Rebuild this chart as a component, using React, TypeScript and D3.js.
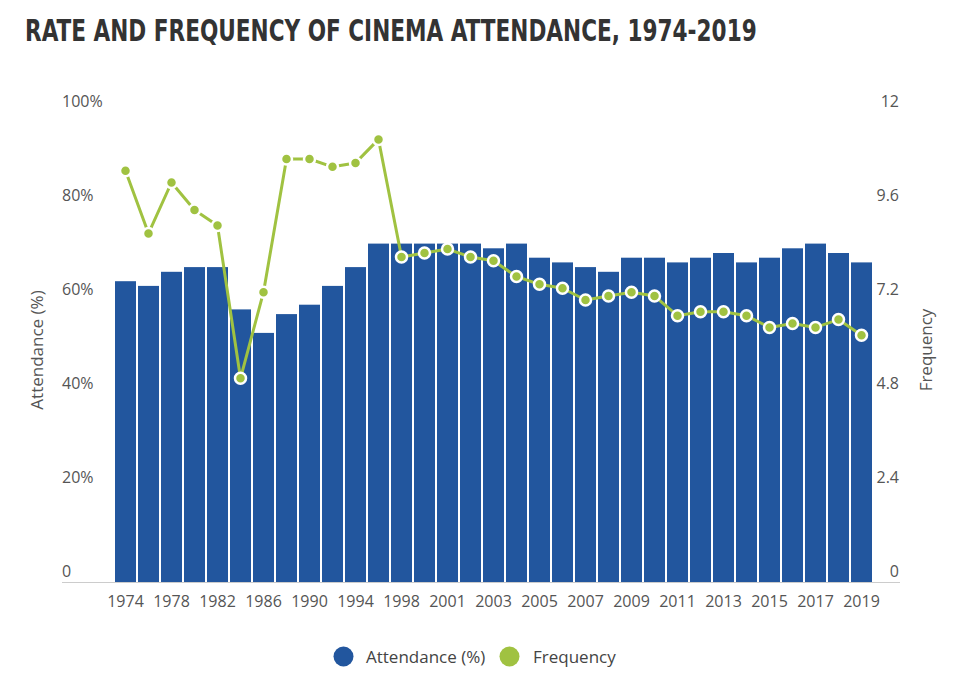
import React, { useLayoutEffect, useRef, useState } from "react";
import * as d3 from "d3";

const years = [
  "1974","1976","1978","1980","1982","1984","1986","1988","1990","1992","1994","1996","1998",
  "2000","2001","2002","2003","2004","2005","2006","2007","2008","2009","2010","2011","2012",
  "2013","2014","2015","2016","2017","2018","2019",
];
const attendance = [
  64, 63, 66, 67, 67, 58, 53, 57, 59, 63, 67, 72, 72,
  72, 72, 72, 71, 72, 69, 68, 67, 66, 69, 69, 68, 69,
  70, 68, 69, 71, 72, 70, 68,
];
const frequency = [
  10.5, 8.9, 10.2, 9.5, 9.1, 5.2, 7.4, 10.8, 10.8, 10.6, 10.7, 11.3, 8.3,
  8.4, 8.5, 8.3, 8.2, 7.8, 7.6, 7.5, 7.2, 7.3, 7.4, 7.3, 6.8, 6.9,
  6.9, 6.8, 6.5, 6.6, 6.5, 6.7, 6.3,
];
const leftTicks = [0, 20, 40, 60, 80, 100];
const rightTicks = [0, 2.4, 4.8, 7.2, 9.6, 12];

const BLUE = "#22569e";
const GREEN = "#a0c241";
const TEXT = "#555555";
const FONT = "'Open Sans', 'Noto Sans', sans-serif";
const TITLE = "RATE AND FREQUENCY OF CINEMA ATTENDANCE, 1974-2019";

export default function App() {
  const W = 960, H = 692;
  const titleRef = useRef<SVGTextElement>(null);
  const [k, setK] = useState(1);
  useLayoutEffect(() => {
    if (titleRef.current) {
      const w = titleRef.current.getComputedTextLength();
      if (w > 0) setK(732 / w);
    }
  }, []);

  const x = d3.scaleBand<string>().domain(years).range([114, 873]).paddingInner(0.087).paddingOuter(0.0435);
  const yL = d3.scaleLinear().domain([0, 100]).range([582, 112]);
  const yR = d3.scaleLinear().domain([0, 12]).range([582, 112]);
  const cx = (i: number) => (x(years[i]) as number) + x.bandwidth() / 2;
  const line = d3.line<number>().x((_, i) => cx(i)).y((d) => yR(d));

  return (
    <svg width={W} height={H} style={{ position: "absolute", left: 0, top: 0, background: "#fff" }} fontFamily={FONT}>
      <text ref={titleRef} transform={`translate(25,41) scale(${k},1)`} fontFamily="'DejaVu Sans Condensed', 'Liberation Sans Narrow', 'Open Sans', sans-serif" fontWeight="bold" fontSize={31} fill="#333">
        {TITLE}
      </text>

      <line x1={62} x2={900} y1={582.5} y2={582.5} stroke="#cccccc" strokeWidth={1} />

      {attendance.map((v, i) => (
        <rect key={years[i]} x={x(years[i])} y={yL(v)} width={x.bandwidth()} height={yL(0) - yL(v)} fill={BLUE} />
      ))}

      <path d={line(frequency) || ""} fill="none" stroke={GREEN} strokeWidth={3} strokeLinejoin="round" />
      {frequency.map((v, i) => (
        <circle key={"f" + i} cx={cx(i)} cy={yR(v)} r={5.5} fill={GREEN} stroke="#fff" strokeWidth={2.5} />
      ))}

      {leftTicks.map((t) => (
        <text key={"l" + t} x={62} y={yL(t) - 5} fontSize={16} fill={TEXT}>
          {t === 0 ? "0" : `${t}%`}
        </text>
      ))}
      {rightTicks.map((t) => (
        <text key={"r" + t} x={899} y={yR(t) - 5} fontSize={16} fill={TEXT} textAnchor="end">
          {String(t)}
        </text>
      ))}

      {years.map((yr, i) =>
        i % 2 === 0 ? (
          <text key={"x" + yr} x={cx(i)} y={607} fontSize={16} fill={TEXT} textAnchor="middle">
            {yr === "2000" ? "" : yr}
          </text>
        ) : null
      )}

      <text transform="translate(43,350) rotate(-90)" fontSize={17} fill={TEXT} textAnchor="middle">
        Attendance (%)
      </text>
      <text transform="translate(932,350) rotate(-90)" fontSize={17} fill={TEXT} textAnchor="middle">
        Frequency
      </text>

      <circle cx={343.5} cy={656.5} r={10} fill={BLUE} />
      <text x={366} y={663} fontSize={17} fill="#444">Attendance (%)</text>
      <circle cx={509.5} cy={656.5} r={10} fill={GREEN} />
      <text x={533} y={663} fontSize={17} fill="#444">Frequency</text>
    </svg>
  );
}
